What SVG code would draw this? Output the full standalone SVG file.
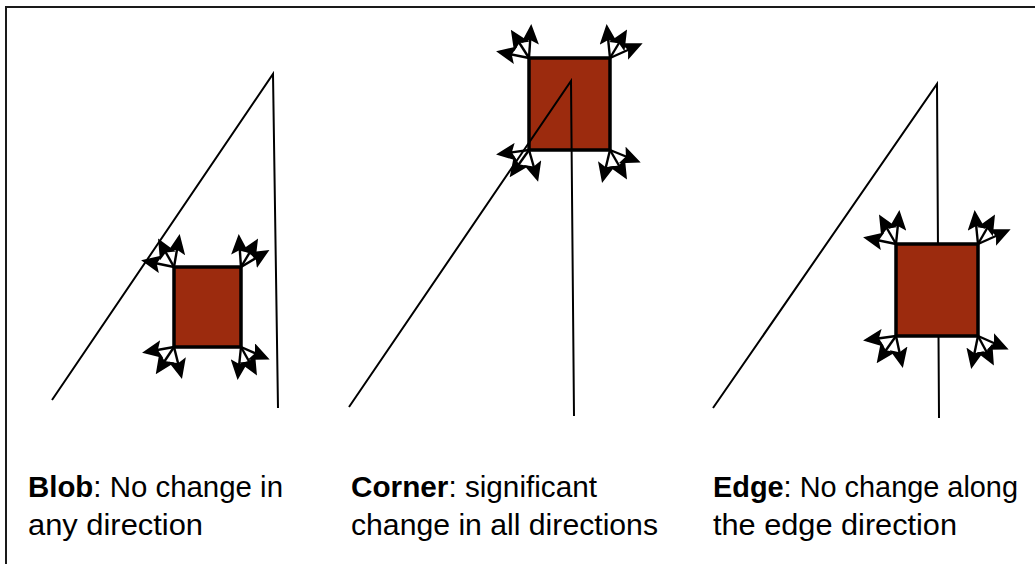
<svg xmlns="http://www.w3.org/2000/svg" width="1035" height="564" viewBox="0 0 1035 564">
<style>
.frame{fill:none;stroke:#1a1a1a;stroke-width:2}
.tri{fill:none;stroke:#000;stroke-width:2}
.box{fill:#9c2b0e;stroke:#000;stroke-width:3.5}
.arr{stroke:#000;stroke-width:2.4;fill:none;marker-end:url(#ah)}
.lbl{font-family:"Liberation Sans","Noto Sans",sans-serif;font-size:29px;fill:#000}
.b{font-weight:bold}
</style>
<defs>
<marker id="ah" markerUnits="userSpaceOnUse" markerWidth="20" markerHeight="18" viewBox="0 0 20 18" refX="16" refY="9" orient="auto">
<path d="M0,0 L20,9 L0,18 L4,9 Z" fill="#000"/>
</marker>
</defs>
<rect width="1035" height="564" fill="#fff"/>
<path class="frame" d="M6,564 V7 H1035"/>

<g id="blob">
<polyline class="tri" points="52,400 273,74 278,408"/>
<rect class="box" x="174" y="267" width="67" height="80"/>
<g class="arrows">
<line class="arr" x1="174" y1="267" x2="179" y2="238"/>
<line class="arr" x1="174" y1="267" x2="160" y2="242"/>
<line class="arr" x1="174" y1="267" x2="145" y2="261"/>
<line class="arr" x1="241" y1="267" x2="239" y2="238"/>
<line class="arr" x1="241" y1="267" x2="256" y2="242"/>
<line class="arr" x1="241" y1="267" x2="266" y2="252"/>
<line class="arr" x1="174" y1="347" x2="146" y2="352"/>
<line class="arr" x1="174" y1="347" x2="158" y2="371"/>
<line class="arr" x1="174" y1="347" x2="181" y2="375"/>
<line class="arr" x1="241" y1="347" x2="238" y2="376"/>
<line class="arr" x1="241" y1="347" x2="255" y2="372"/>
<line class="arr" x1="241" y1="347" x2="266" y2="358"/>
</g>
</g>

<g id="corner">
<rect class="box" x="529" y="58" width="81" height="92"/>
<polyline class="tri" points="349,407 571,81 574,416"/>
<g class="arrows">
<line class="arr" x1="529" y1="58" x2="531" y2="28"/>
<line class="arr" x1="529" y1="58" x2="513" y2="33"/>
<line class="arr" x1="529" y1="58" x2="500" y2="52"/>
<line class="arr" x1="610" y1="58" x2="607" y2="28"/>
<line class="arr" x1="610" y1="58" x2="625" y2="33"/>
<line class="arr" x1="610" y1="58" x2="639" y2="45"/>
<line class="arr" x1="529" y1="150" x2="500" y2="154"/>
<line class="arr" x1="529" y1="150" x2="512" y2="174"/>
<line class="arr" x1="529" y1="150" x2="537" y2="178"/>
<line class="arr" x1="610" y1="150" x2="603" y2="179"/>
<line class="arr" x1="610" y1="150" x2="625" y2="176"/>
<line class="arr" x1="610" y1="150" x2="637" y2="161"/>
</g>
</g>

<g id="edge">
<polyline class="tri" points="713,408 937,84 939,418"/>
<rect class="box" x="896" y="244" width="82" height="92"/>
<g class="arrows">
<line class="arr" x1="896" y1="244" x2="899" y2="214"/>
<line class="arr" x1="896" y1="244" x2="881" y2="218"/>
<line class="arr" x1="896" y1="244" x2="867" y2="238"/>
<line class="arr" x1="978" y1="244" x2="975" y2="214"/>
<line class="arr" x1="978" y1="244" x2="993" y2="218"/>
<line class="arr" x1="978" y1="244" x2="1007" y2="231"/>
<line class="arr" x1="896" y1="336" x2="867" y2="340"/>
<line class="arr" x1="896" y1="336" x2="879" y2="360"/>
<line class="arr" x1="896" y1="336" x2="902" y2="364"/>
<line class="arr" x1="978" y1="336" x2="972" y2="365"/>
<line class="arr" x1="978" y1="336" x2="992" y2="362"/>
<line class="arr" x1="978" y1="336" x2="1005" y2="348"/>
</g>
</g>

<g id="labels">
<text class="lbl" x="28" y="497" textLength="255" lengthAdjust="spacingAndGlyphs"><tspan class="b">Blob</tspan>: No change in</text>
<text class="lbl" x="28" y="535" textLength="175" lengthAdjust="spacingAndGlyphs">any direction</text>
<text class="lbl" x="351" y="497" textLength="246" lengthAdjust="spacingAndGlyphs"><tspan class="b">Corner</tspan>: significant</text>
<text class="lbl" x="351" y="535" textLength="307" lengthAdjust="spacingAndGlyphs">change in all directions</text>
<text class="lbl" x="713" y="497" textLength="305" lengthAdjust="spacingAndGlyphs"><tspan class="b">Edge</tspan>: No change along</text>
<text class="lbl" x="713" y="535" textLength="244" lengthAdjust="spacingAndGlyphs">the edge direction</text>
</g>
</svg>
